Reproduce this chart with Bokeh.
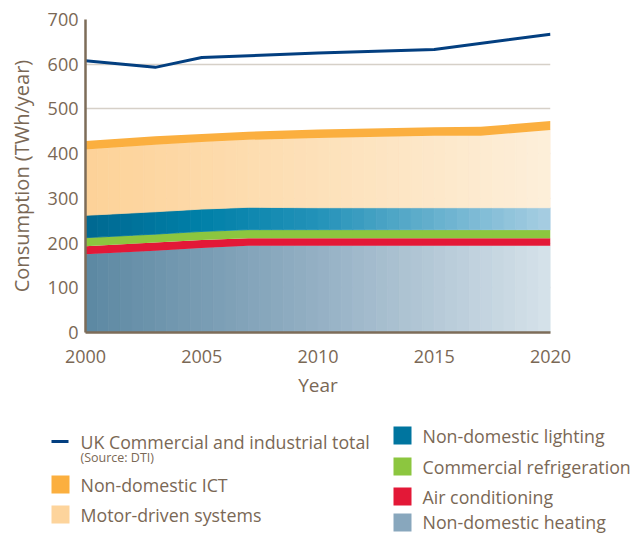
import numpy as np
from bokeh.plotting import figure
from bokeh.layouts import column
from bokeh.models import Range1d, FixedTicker
from bokeh.embed import file_html
from bokeh.resources import INLINE
from bokeh.core.properties import value

# ---------------- data ----------------
years = [2000, 2003, 2005, 2007, 2010, 2015, 2017, 2020]
heating = [175, 183, 189, 194, 194, 194, 194, 194]
air_con = [18, 18, 18, 17, 17, 17, 17, 17]
refrig = [19, 19, 19, 19, 19, 19, 19, 19]
lighting = [50, 50, 50, 50, 49, 49, 49, 49]
motor = [147, 150, 150, 151, 156, 161, 161, 174]
ict = [19, 19, 18, 18, 19, 19, 20, 20]

total_years = [2000, 2003, 2005, 2010, 2015, 2020]
total = [608, 593, 615, 625, 633, 667]

y_ticks = [0, 100, 200, 300, 400, 500, 600, 700]
x_ticks = [2000, 2005, 2010, 2015, 2020]

left_labels = ["UK Commercial and industrial total", "Non-domestic ICT", "Motor-driven systems"]
right_labels = ["Non-domestic lighting", "Commercial refrigeration", "Air conditioning", "Non-domestic heating"]
source_note = "(Source: DTI)"

FONT = "Open Sans"
TXT = "#7a6855"
AXIS = "#7d6c59"

C_ICT = "#fbaf3f"
C_MOTOR = "#fdd49c"
C_LIGHT = "#00759f"
C_REF = "#8cc63f"
C_AC = "#e31837"
C_HEAT = "#88a7bd"
C_TOTAL = "#033f80"

grad_heat = [(0.0, (92, 136, 162)), (0.5, (148, 176, 196)), (1.0, (214, 226, 234))]
grad_light = [(0.0, (0, 104, 145)), (0.25, (0, 128, 168)), (0.5, (35, 146, 185)), (1.0, (168, 206, 226))]
grad_motor = [(0.0, (253, 210, 152)), (1.0, (253, 239, 218))]


def grad_color(stops, t):
    for (t0, c0), (t1, c1) in zip(stops[:-1], stops[1:]):
        if t <= t1:
            f = (t - t0) / (t1 - t0)
            c = [int(round(a + (b - a) * f)) for a, b in zip(c0, c1)]
            return "#%02x%02x%02x" % tuple(c)
    return "#%02x%02x%02x" % stops[-1][1]


# ---------------- main chart ----------------
W, H1, H2 = 644, 400, 134
FL, FR, FT, FB = 85, 550, 19, 335

p = figure(width=W, height=H1, output_backend="svg", toolbar_location=None,
           x_range=Range1d(2000, 2020), y_range=Range1d(0, 700),
           min_border_left=FL, min_border_right=W - FR, min_border_top=FT, min_border_bottom=H1 - FB)
p.outline_line_color = None
p.background_fill_color = "white"
p.border_fill_color = "white"
p.frame_align = False

cum0 = np.zeros(len(years))
layers = [heating, air_con, refrig, lighting, motor, ict]
bounds = []
for lay in layers:
    cum1 = cum0 + np.array(lay, dtype=float)
    bounds.append((cum0.copy(), cum1.copy()))
    cum0 = cum1

edges = np.arange(years[0], years[-1] + 0.001, 0.5)


def gradient_area(bot, top, stops):
    b = np.interp(edges, years, bot)
    t = np.interp(edges, years, top)
    xs, ys, cols = [], [], []
    span = edges[-1] - edges[0]
    for i in range(len(edges) - 1):
        xs.append([edges[i], edges[i + 1], edges[i + 1], edges[i]])
        ys.append([b[i], b[i + 1], t[i + 1], t[i]])
        cols.append(grad_color(stops, ((edges[i] + edges[i + 1]) / 2 - edges[0]) / span))
    return p.patches(xs, ys, fill_color=cols, line_color=cols, line_width=0.8)


gradient_area(*bounds[0], grad_heat)
p.varea(x=years, y1=bounds[1][0], y2=bounds[1][1], fill_color=C_AC)
p.varea(x=years, y1=bounds[2][0], y2=bounds[2][1], fill_color=C_REF)
gradient_area(*bounds[3], grad_light)
gradient_area(*bounds[4], grad_motor)
p.varea(x=years, y1=bounds[5][0], y2=bounds[5][1], fill_color=C_ICT)

p.line(total_years, total, line_color=C_TOTAL, line_width=3)

p.xaxis.ticker = FixedTicker(ticks=x_ticks)
p.yaxis.ticker = FixedTicker(ticks=y_ticks)
for ax in (p.xaxis[0], p.yaxis[0]):
    ax.axis_line_color = AXIS
    ax.axis_line_width = 2.5
    ax.major_tick_line_color = None
    ax.minor_tick_line_color = None
    ax.major_tick_out = 0
    ax.major_tick_in = 0
    ax.major_label_text_font = FONT
    ax.major_label_text_font_size = "18px"
    ax.major_label_text_color = TXT
    ax.axis_label_text_font = FONT
    ax.axis_label_text_font_style = "normal"
    ax.axis_label_text_color = TXT
p.xaxis.axis_label_text_font_size = "19px"
p.yaxis.axis_label_text_font_size = "20px"
p.xaxis.axis_label = "Year"
p.yaxis.axis_label = "Consumption (TWh/year)"
p.xaxis.major_label_standoff = 17
p.yaxis.major_label_standoff = 7
p.xaxis.axis_label_standoff = 6
p.yaxis.axis_label_standoff = 10

p.xgrid.grid_line_color = None
p.ygrid.grid_line_color = "#d6d0c8"
p.ygrid.grid_line_width = 1.5

# ---------------- legend (pixel coordinates of the page) ----------------
lg = figure(width=W, height=H2, output_backend="svg", toolbar_location=None,
            x_range=Range1d(0, W), y_range=Range1d(H1 + H2, H1), min_border=0)
lg.axis.visible = False
lg.grid.visible = False
lg.outline_line_color = None
lg.frame_align = False

lg.line([51, 68], [441, 441], line_color=C_TOTAL, line_width=3)
lg.quad(left=[51, 51], right=[69, 69], top=[475, 505], bottom=[493, 523],
        fill_color=[C_ICT, C_MOTOR], line_color=None)
lg.text(x=[80, 80, 80], y=[441, 484, 514], text=left_labels,
        text_font=value(FONT), text_font_size="17.8px", text_color=TXT,
        text_baseline="middle")
lg.text(x=[80], y=[457], text=[source_note], text_font=value(FONT),
        text_font_size="12.5px", text_color=TXT, text_baseline="middle")

lg.quad(left=[393] * 4, right=[411] * 4, top=[426, 457, 487, 513], bottom=[444, 475, 505, 531],
        fill_color=[C_LIGHT, C_REF, C_AC, C_HEAT], line_color=None)
lg.text(x=[422] * 4, y=[435, 466, 496, 521], text=right_labels,
        text_font=value(FONT), text_font_size="17.8px", text_color=TXT,
        text_baseline="middle")

layout = column(p, lg, spacing=0)
open("out.html", "w").write(file_html(layout, INLINE))
